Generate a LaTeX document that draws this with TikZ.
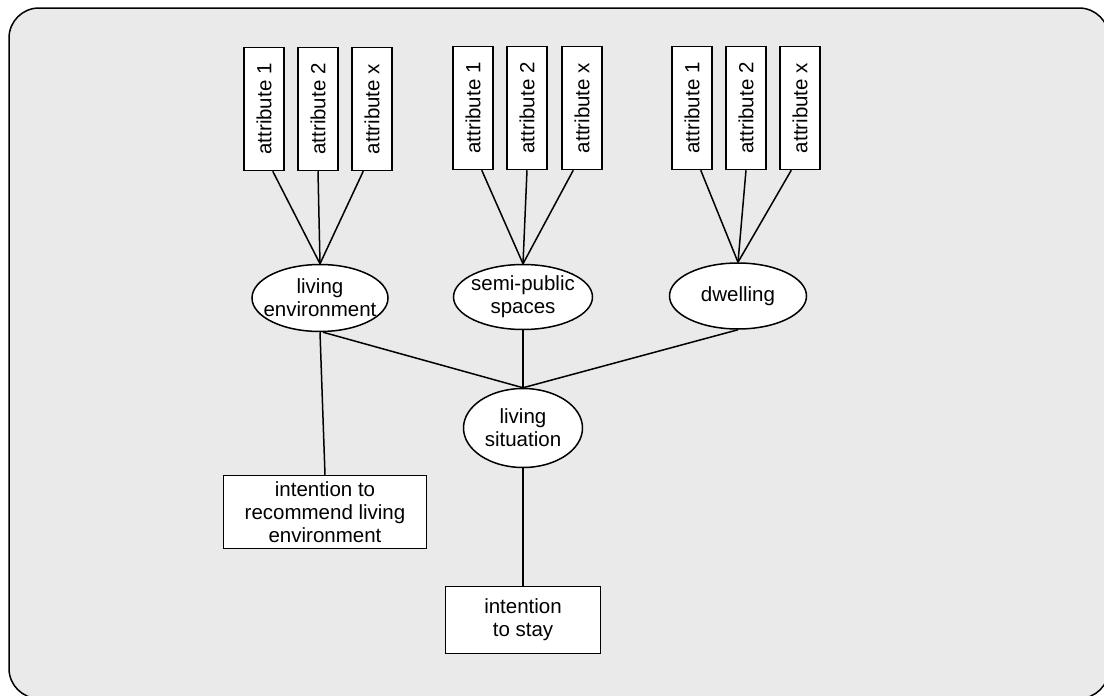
\documentclass[tikz,border=0pt]{standalone}
\usepackage{fontspec}
\setmainfont{Liberation Sans}
\usetikzlibrary{shapes.geometric}
\definecolor{panelgray}{RGB}{234,234,234}

\begin{document}
\begin{tikzpicture}[x=1pt, y=-1pt, line width=1.5pt,
    every node/.style={font=\fontsize{20.5}{23}\selectfont, line width=1.5pt},
    attrbox/.style={draw, fill=white, rotate=90, minimum width=123pt, minimum height=40pt, inner sep=0pt},
    aspect/.style={draw, fill=white, ellipse, inner xsep=-10pt, inner ysep=-2pt, align=center},
    outcome/.style={draw, fill=white, inner sep=0pt, align=center}]
      \clip (0,0) rectangle (1104,696);
      % grey panel behind everything
      \draw[fill=panelgray, rounded corners=30pt] (9,8) rectangle (1109,698.5);
      % attributes of living environment
      \node[attrbox] (le1) at (264,109) {attribute 1};
      \node[attrbox] (le2) at (318,109) {attribute 2};
      \node[attrbox] (le3) at (372,109) {attribute x};
      % attributes of semi-public spaces
      \node[attrbox] (sp1) at (473,108) {attribute 1};
      \node[attrbox] (sp2) at (527,108) {attribute 2};
      \node[attrbox] (sp3) at (582,108) {attribute x};
      % attributes of dwelling
      \node[attrbox] (dw1) at (692,108) {attribute 1};
      \node[attrbox] (dw2) at (746,108) {attribute 2};
      \node[attrbox] (dw3) at (800,108) {attribute x};
      % the three aspects
      \node[aspect, minimum width=136pt, minimum height=67pt] (env) at (320,298) {living\\environment};
      \node[aspect, minimum width=139pt, minimum height=65pt] (spaces) at (523,297) {semi-public\\spaces};
      \node[aspect, minimum width=137pt, minimum height=66pt] (dwell) at (738,296) {dwelling};
      % overall situation
      \node[aspect, minimum width=119pt, minimum height=79pt] (sit) at (523,428) {living\\situation};
      % intentions
      \node[outcome, minimum width=203pt, minimum height=73pt] (recommend) at (325,512) {intention to\\recommend living\\environment};
      \node[outcome, minimum width=155pt, minimum height=67pt] (stay) at (523,620) {intention\\to stay};
      % attributes to aspects
      \draw (le1.-172) -- (env.north);
      \draw (le2.west) -- (env.north);
      \draw (le3.172) -- (env.north);
      \draw (sp1.-172) -- (spaces.north);
      \draw (sp2.west) -- (spaces.north);
      \draw (sp3.172) -- (spaces.north);
      \draw (dw1.-172) -- (dwell.north);
      \draw (dw2.west) -- (dwell.north);
      \draw (dw3.172) -- (dwell.north);
      % aspects to situation
      \draw (env.-85) -- (sit.north);
      \draw (spaces.south) -- (sit.north);
      \draw (dwell.south) -- (sit.north);
      % to the intentions
      \draw (env.south) -- (recommend.north);
      \draw (sit.south) -- (stay.north);
\end{tikzpicture}
\end{document}
